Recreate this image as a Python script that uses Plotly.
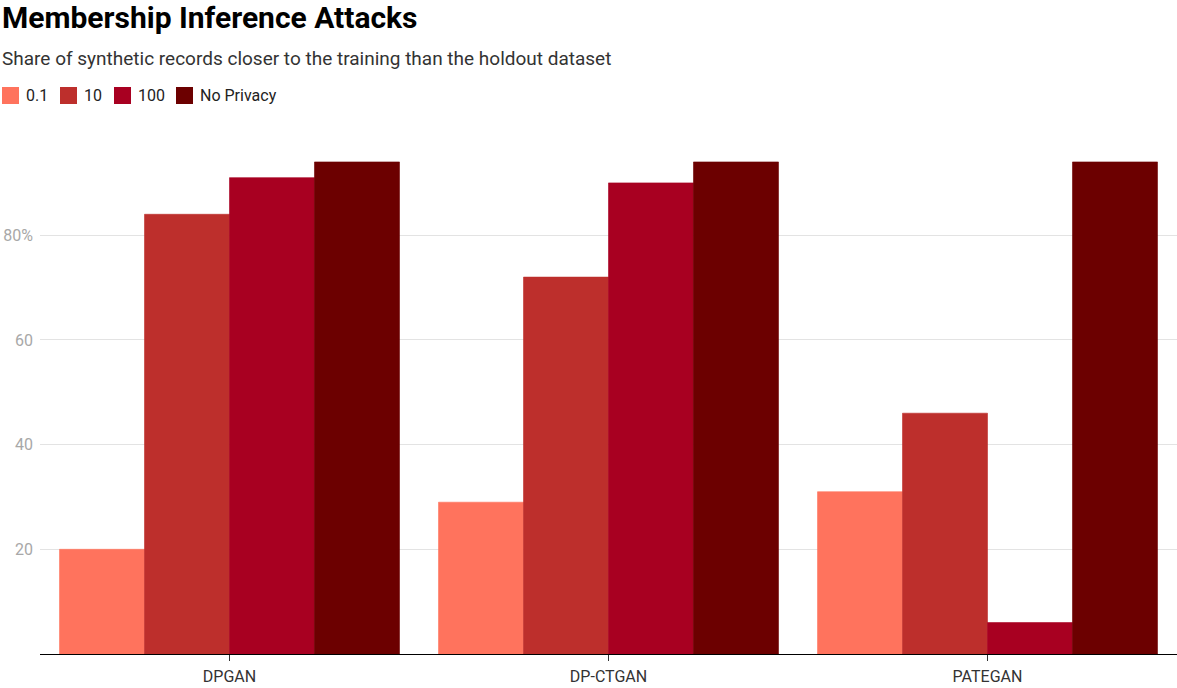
import plotly.graph_objects as go

categories = ["DPGAN", "DP-CTGAN", "PATEGAN"]
series_names = ["0.1", "10", "100", "No Privacy"]
values_01 = [20, 29, 31]
values_10 = [84, 72, 46]
values_100 = [91, 90, 6]
values_np = [94, 94, 94]
colors = ["#FF735D", "#BD2F2C", "#A80021", "#6C0000"]
y_tickvals = [20, 40, 60, 80]
y_ticktext = ["20", "40", "60", "80%"]

series_values = [values_01, values_10, values_100, values_np]

fig = go.Figure()
for name, vals, col in zip(series_names, series_values, colors):
    fig.add_trace(go.Bar(x=categories, y=vals, name=name, marker_color=col,
                         marker_line=dict(width=0.6, color=col), showlegend=False,
                         hovertemplate="%{x}<br>" + name + ": %{y}%<extra></extra>"))

W, H = 1177, 688
ml, mr, mt, mb = 40, 0, 141, 34

fig.update_layout(
    width=W, height=H,
    margin=dict(l=ml, r=mr, t=mt, b=mb),
    paper_bgcolor="white", plot_bgcolor="white",
    barmode="group", bargap=0.103, bargroupgap=0,
    font=dict(family="Roboto", color="#333333"),
    xaxis=dict(showline=True, linecolor="#000000", linewidth=1,
               ticks="outside", ticklen=6, tickcolor="#333333",
               tickfont=dict(size=16, color="#333333"), showgrid=False,
               ticklabelstandoff=2),
    yaxis=dict(range=[0, 98], tickvals=y_tickvals, ticktext=y_ticktext,
               showgrid=True, gridcolor="#e3e3e3", zeroline=False,
               tickfont=dict(size=16, color="#a8a8a8"), ticks="", ticklabelstandoff=6),
)

# Title and subtitle
fig.add_annotation(text="<b>Membership Inference Attacks</b>", xref="paper", yref="paper",
                   x=-ml / (W - ml - mr), y=1 + (mt - 17) / (H - mt - mb),
                   xanchor="left", yanchor="middle", showarrow=False,
                   font=dict(size=30, color="#000000", family="Roboto"))
fig.add_annotation(text="Share of synthetic records closer to the training than the holdout dataset",
                   xref="paper", yref="paper",
                   x=-ml / (W - ml - mr), y=1 + (mt - 58) / (H - mt - mb),
                   xanchor="left", yanchor="middle", showarrow=False,
                   font=dict(size=19, color="#333333", family="Roboto"))

# Custom legend
pw = W - ml - mr
ph = H - mt - mb
def px_x(x):
    return (x - ml) / pw
def px_y(y):
    return 1 + (mt - y) / ph

swatch_x = [2, 60, 114, 176]
for sx, name, col in zip(swatch_x, series_names, colors):
    fig.add_shape(type="rect", xref="paper", yref="paper",
                  x0=px_x(sx), x1=px_x(sx + 17), y0=px_y(104), y1=px_y(87),
                  fillcolor=col, line_width=0)
    fig.add_annotation(text=name, xref="paper", yref="paper",
                       x=px_x(sx + 22), y=px_y(95.5), xanchor="left", yanchor="middle",
                       showarrow=False, font=dict(size=16, color="#222222", family="Roboto"))

fig.write_html("out.html")
